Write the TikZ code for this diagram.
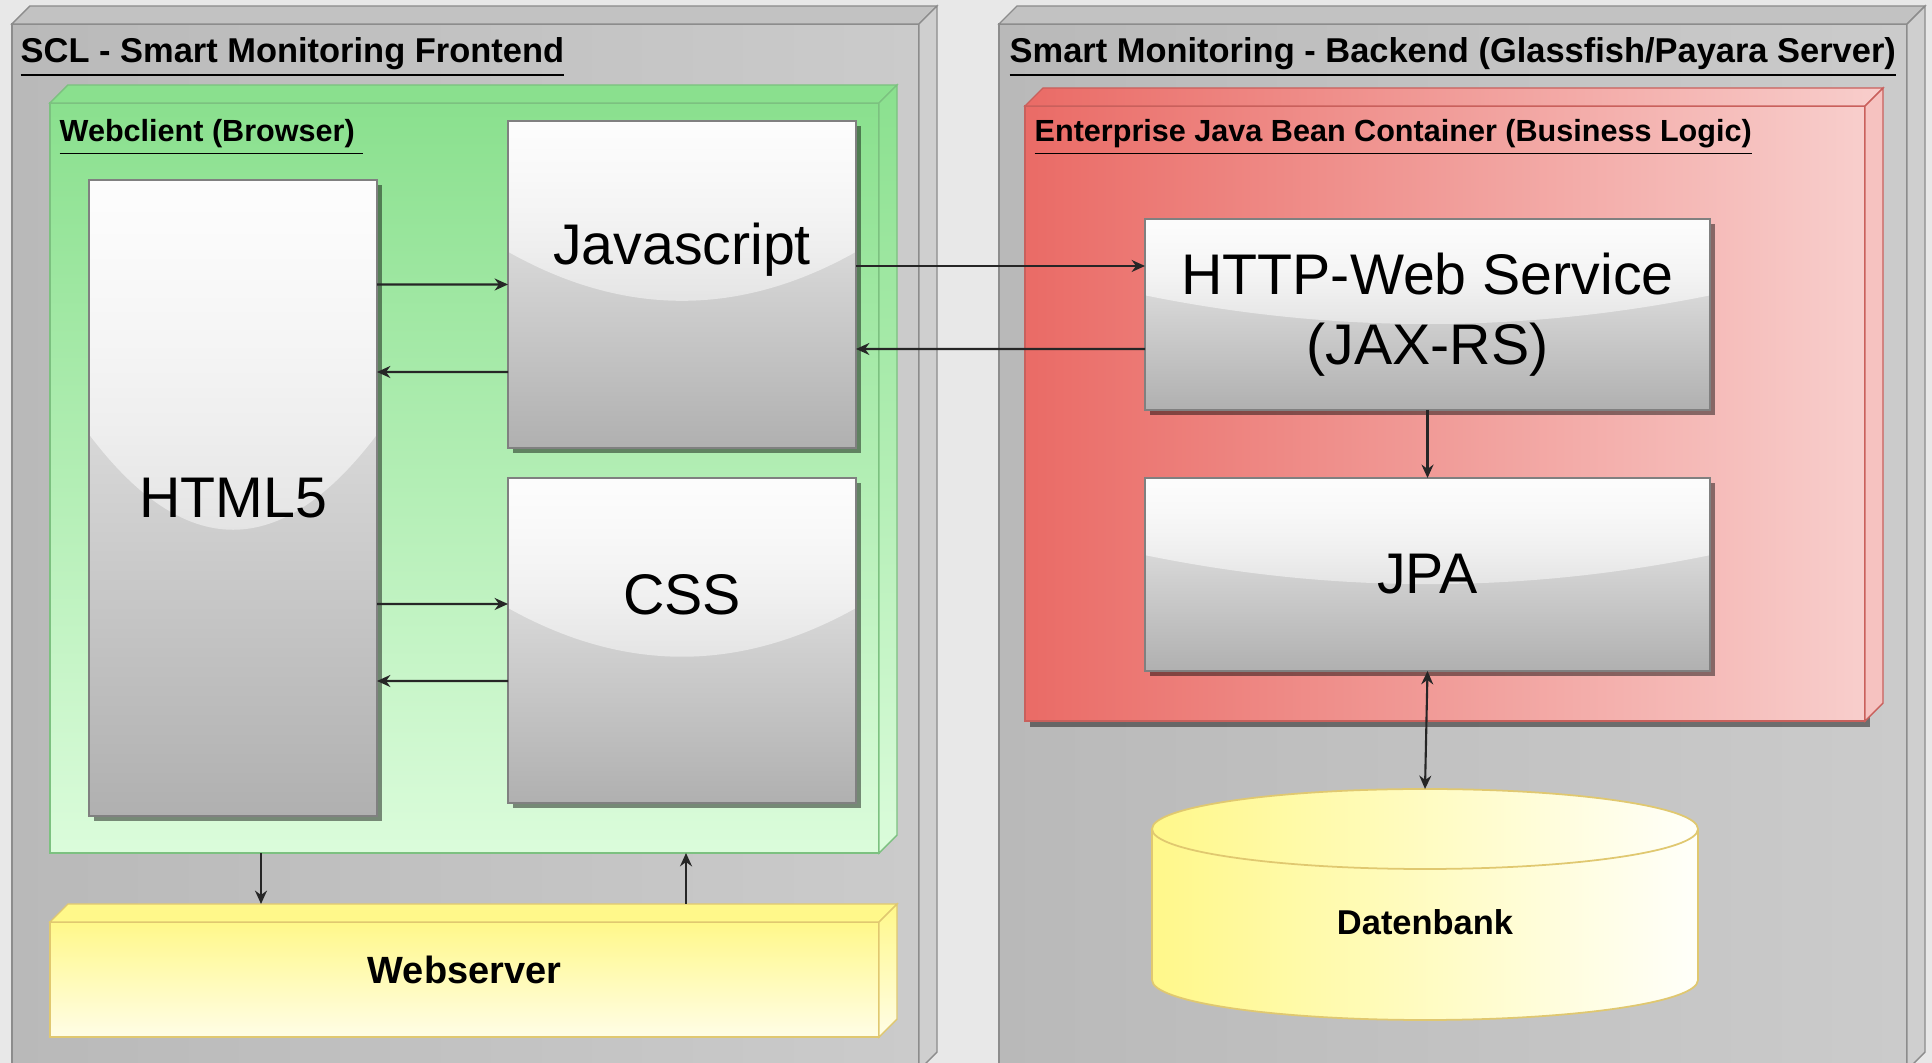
\documentclass[tikz,border=0pt]{standalone}
\usepackage{fontspec}
\setmainfont{Liberation Sans}
\usetikzlibrary{arrows.meta,shadows,calc,fadings}

\definecolor{bggray}{HTML}{E8E8E8}
\definecolor{grayleft}{HTML}{B9B9B9}
\definecolor{grayright}{HTML}{CBCBCB}
\definecolor{graytop}{HTML}{C2C2C2}
\definecolor{grayside}{HTML}{CFCFCF}
\definecolor{graydraw}{HTML}{8C8C8C}
\definecolor{greentop}{HTML}{8AE08E}
\definecolor{greenbottom}{HTML}{DBFCDB}
\definecolor{greendraw}{HTML}{7CC180}
\definecolor{redleft}{HTML}{EA6B66}
\definecolor{redright}{HTML}{F8CECC}
\definecolor{redside}{HTML}{F6C2C0}
\definecolor{reddraw}{HTML}{C9605C}
\definecolor{yellowtop}{HTML}{FFF88A}
\definecolor{yellowbottom}{HTML}{FFFDE6}
\definecolor{yellowdraw}{HTML}{E0C870}
\definecolor{boxtop}{HTML}{F2F2F2}
\definecolor{boxbottom}{HTML}{B0B0B0}

\tikzfading[name=glassfade, top color=transparent!15, bottom color=transparent!85]

% top and right face of a 3d container node
\newcommand{\depthfaces}[3]{%
  \path[#2] (#1.north west) -- ++(0.18,0.18)
      -- ([shift={(0.18,0.18)}]#1.north east) -- (#1.north east) -- cycle;
  \path[#3] (#1.north east) -- ([shift={(0.18,0.18)}]#1.north east)
      -- ([shift={(0.18,0.18)}]#1.south east) -- (#1.south east) -- cycle;
}

\begin{document}
\begin{tikzpicture}[
    >={Stealth[length=3.8pt,width=3.4pt]},
    frame/.style={inner sep=0pt, outer sep=0pt, line width=0.5pt},
    glassbox/.style={
        draw=black!50, line width=0.5pt,
        top color=boxtop, bottom color=boxbottom,
        inner sep=0pt, outer sep=0pt,
        font=\fontsize{16.3}{19.9}\selectfont, align=center,
        drop shadow={shadow xshift=0.05cm, shadow yshift=-0.05cm,
                     opacity=0.45, fill=black},
        path picture={
            \fill[white, path fading=glassfade, fit fading=true]
                let \p1=(path picture bounding box.north west),
                    \p2=(path picture bounding box.south east) in
                (\x1,\y1) -- (\x1,{\y1+0.4*(\y2-\y1)})
                .. controls ({\x1+(\x2-\x1)/3},{\y1+0.6*(\y2-\y1)})
                        and ({\x1+2*(\x2-\x1)/3},{\y1+0.6*(\y2-\y1)}) ..
                (\x2,{\y1+0.4*(\y2-\y1)}) -- (\x2,\y1) -- cycle;
        }
    },
    heading/.style={anchor=base west, inner sep=0pt,
        font=\bfseries\fontsize{9.8}{11}\selectfont},
    subheading/.style={anchor=base west, inner sep=0pt,
        font=\bfseries\fontsize{8.7}{10}\selectfont},
    arr/.style={->, line width=0.6pt, draw=black!85}
]
    \useasboundingbox (0,0) rectangle (19.32,10.63);
    \clip (0,0) rectangle (19.32,10.63);
    \fill[bggray] (0,0) rectangle (19.32,10.63);

    % outer containers
    \node[frame, draw=graydraw, left color=grayleft, right color=grayright,
        minimum width=9.07cm, minimum height=10.46cm] (frontend) at (4.655,5.16) {};
    \depthfaces{frontend}{fill=graytop, draw=graydraw}{fill=grayside, draw=graydraw}

    \node[frame, draw=graydraw, left color=grayleft, right color=grayright,
        minimum width=9.08cm, minimum height=10.46cm] (backend) at (14.53,5.16) {};
    \depthfaces{backend}{fill=graytop, draw=graydraw}{fill=grayside, draw=graydraw}

    \node[heading] (fronttitle) at (0.20,10.00)
        {\underline{SCL - Smart Monitoring Frontend}};
    \node[heading] (backtitle) at (10.09,10.00)
        {\underline{Smart Monitoring - Backend (Glassfish/Payara Server)}};

    % inner containers
    \node[frame, draw=greendraw, top color=greentop, bottom color=greenbottom,
        minimum width=8.29cm, minimum height=7.50cm] (webclient) at (4.645,5.85) {};
    \depthfaces{webclient}{fill=greentop, draw=greendraw}
        {top color=greentop, bottom color=greenbottom, draw=greendraw}
    \node[subheading] (webclienttitle) at (0.59,9.21)
        {\underline{Webclient (Browser)\ }};

    \node[frame, draw=yellowdraw, top color=yellowtop, bottom color=yellowbottom,
        minimum width=8.29cm, minimum height=1.15cm, text depth=0.2cm,
        font=\bfseries\fontsize{10.8}{13}\selectfont] (webserver) at (4.645,0.835) {Webserver};
    \depthfaces{webserver}{fill=yellowtop, draw=yellowdraw}
        {top color=yellowtop, bottom color=yellowbottom, draw=yellowdraw}

    \node[frame, draw=reddraw, left color=redleft, right color=redright,
        minimum width=8.40cm, minimum height=6.15cm,
        drop shadow={shadow xshift=0.05cm, shadow yshift=-0.06cm,
                     opacity=0.45, fill=black}] (ejb) at (14.45,6.495) {};
    \depthfaces{ejb}{left color=redleft, right color=redright, draw=reddraw}
        {fill=redside, draw=reddraw}
    \node[subheading] (ejbtitle) at (10.34,9.21)
        {\underline{Enterprise Java Bean Container (Business Logic)}};

    % components
    \node[glassbox, minimum width=2.88cm, minimum height=6.36cm] (html) at (2.33,5.65) {HTML5};
    \node[glassbox, minimum width=3.48cm, minimum height=3.27cm, text depth=0.82cm]
        (js) at (6.82,7.785) {Javascript};
    \node[glassbox, minimum width=3.48cm, minimum height=3.25cm, text depth=0.92cm]
        (css) at (6.82,4.225) {CSS};
    \node[glassbox, minimum width=5.65cm, minimum height=1.91cm]
        (http) at (14.275,7.485) {HTTP-Web Service\\(JAX-RS)};
    \node[glassbox, minimum width=5.65cm, minimum height=1.93cm] (jpa) at (14.275,4.885) {JPA};

    % database
    \path[draw=yellowdraw, line width=0.5pt, left color=yellowtop, right color=white!98!yellow]
        (11.52,2.34) -- (11.52,0.83)
        arc[start angle=180, end angle=360, x radius=2.73, y radius=0.40]
        -- (16.98,2.34)
        arc[start angle=0, end angle=180, x radius=2.73, y radius=0.40] -- cycle;
    \draw[yellowdraw, line width=0.5pt]
        (11.52,2.34) arc[start angle=180, end angle=360, x radius=2.73, y radius=0.40];
    \node[inner sep=0pt, outer sep=0pt, minimum width=5.46cm, minimum height=2.31cm,
        text height=0.6cm, font=\bfseries\fontsize{9.8}{11}\selectfont]
        (db) at (14.25,1.585) {Datenbank};

    \draw[arr] ([yshift=2.135cm]html.east) -- (js.west);
    \draw[arr] ([yshift=-0.875cm]js.west) -- ([yshift=1.26cm]html.east);
    \draw[arr] ([yshift=-1.06cm]html.east) -- ([yshift=0.365cm]css.west);
    \draw[arr] ([yshift=-0.405cm]css.west) -- ([yshift=-1.83cm]html.east);
    \draw[arr] ([yshift=0.185cm]js.east) -- ([yshift=0.485cm]http.west);
    \draw[arr] ([yshift=-0.345cm]http.west) -- ([yshift=-0.645cm]js.east);
    \draw[arr] (http.south) -- (jpa.north);
    \draw[arr, <->] (jpa.south) -- (db.north);
    \draw[arr] ([xshift=-2.035cm]webclient.south)
        -- ([xshift=-2.035cm, yshift=0.18cm]webserver.north);
    \draw[arr] ([xshift=2.215cm, yshift=0.18cm]webserver.north)
        -- ([xshift=2.215cm]webclient.south);
\end{tikzpicture}
\end{document}
